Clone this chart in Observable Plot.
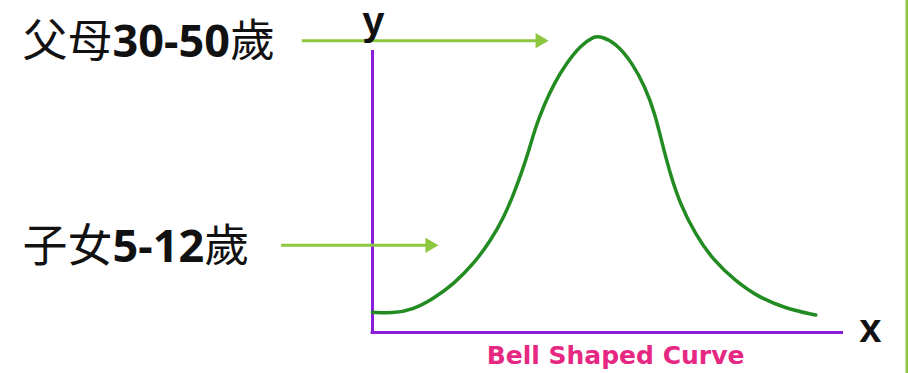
<!DOCTYPE html>
<html>
<head>
<meta charset="utf-8">
<script src="https://cdn.jsdelivr.net/npm/d3@7"></script>
<script src="https://cdn.jsdelivr.net/npm/@observablehq/plot@0.6"></script>
<style>
  html, body { margin: 0; padding: 0; background: #fff; }
  #chart { width: 908px; height: 373px; overflow: hidden; }
</style>
</head>
<body>
<div id="chart"></div>
<script>
// Bell curve samples (x: arbitrary 0–100 axis units, y: relative height)
const curveX = [0, 4.25, 8.5, 13.0, 17.3, 21.5, 25.1, 27.9, 30.0, 31.8, 33.2, 34.6, 36.4, 38.5, 41.3, 44.2, 47.0, 48.3, 51.5, 55.1, 57.9, 60.0, 61.5, 63.2, 65.3, 68.5, 72.4, 77.0, 82.0, 87.7, 94.1];
const curveY = [7.2, 6.8, 8.0, 12.0, 17.3, 24.4, 32.6, 40.9, 49.2, 57.4, 64.5, 72.8, 80.5, 88.2, 95.8, 101.8, 105.0, 105.1, 102.9, 95.8, 87.0, 77.5, 67.0, 56.3, 45.6, 35.0, 25.5, 18.4, 12.5, 8.5, 6.2];

// Annotation labels and the curve levels their arrows point to
const labels = ["父母30-50歲", "子女5-12歲"];
const labelLevels = [103.5, 30.9];
const arrowTips = [37.4, 14.0];
const arrowStarts = [-14.9, -19.3];

const axisLabels = ["y", "x"];
const caption = "Bell Shaped Curve";

const curve = curveX.map((x, i) => ({x, y: curveY[i]}));
const annotations = labels.map((label, i) => ({
  label, y: labelLevels[i], tip: arrowTips[i], start: arrowStarts[i]
}));

const purple = "#8B1CD8";
const green = "#228B22";
const arrowGreen = "#8DC63F";
const pink = "#E62883";

const chart = Plot.plot({
  width: 908,
  height: 373,
  marginLeft: 372,
  marginRight: 65,
  marginTop: 50,
  marginBottom: 41,
  x: {domain: [0, 100], axis: null},
  y: {domain: [0, 100], axis: null},
  style: {background: "white", overflow: "visible"},
  marks: [
    // right edge accent bar
    Plot.ruleX([113.6], {y1: -20, y2: 130, stroke: arrowGreen, strokeWidth: 4}),
    // axes
    Plot.ruleX([0], {y1: -0.5, y2: 100, stroke: purple, strokeWidth: 3}),
    Plot.ruleY([0], {x1: -0.3, x2: 100, stroke: purple, strokeWidth: 3}),
    // bell curve
    Plot.line(curve, {x: "x", y: "y", curve: "basis", stroke: green, strokeWidth: 3.5}),
    // arrows
    Plot.ruleY(annotations, {y: "y", x1: "start", x2: d => d.tip - 2.5, stroke: arrowGreen, strokeWidth: 3}),
    Plot.dot(annotations, {x: d => d.tip - 1.85, y: "y", symbol: "triangle", r: 5.6, rotate: 90, fill: arrowGreen, stroke: "none"}),
    // annotation labels
    Plot.text(annotations, {
      x: -74.3, y: d => d.y - 0.8, text: "label", textAnchor: "start",
      fontSize: 45, fontFamily: "'Noto Sans CJK TC', 'Noto Sans', sans-serif", fill: "#111",
      className: "age-label"
    }),
    // axis letters
    Plot.text([axisLabels[0]], {x: 0.2, y: 110.2, text: d => d, fontSize: 40, fontWeight: "bold",
      fontFamily: "'Liberation Sans', Arial, sans-serif", fill: "#111"}),
    Plot.text([axisLabels[1]], {x: 105.7, y: 1.0, text: d => d, fontSize: 40, fontWeight: "bold",
      fontFamily: "'Liberation Sans', Arial, sans-serif", fill: "#111"}),
    // caption
    Plot.text([caption], {x: 51.6, y: -8.2, text: d => d, fontSize: 25, fontWeight: "bold",
      fontFamily: "'DejaVu Sans', Verdana, sans-serif", fill: pink})
  ]
});

// Render the digit runs of the age labels in a heavier weight, as in the reference
chart.querySelectorAll(".age-label text").forEach(t => {
  const s = t.textContent;
  const parts = s.split(/([0-9\-]+)/).filter(p => p.length);
  t.textContent = "";
  parts.forEach(p => {
    const ts = document.createElementNS("http://www.w3.org/2000/svg", "tspan");
    ts.textContent = p;
    if (/^[0-9\-]+$/.test(p)) {
      ts.setAttribute("font-weight", "bold");
      ts.setAttribute("font-family", "'Noto Sans', 'Open Sans', sans-serif");
    }
    t.appendChild(ts);
  });
});

document.getElementById("chart").appendChild(chart);
</script>
</body>
</html>
